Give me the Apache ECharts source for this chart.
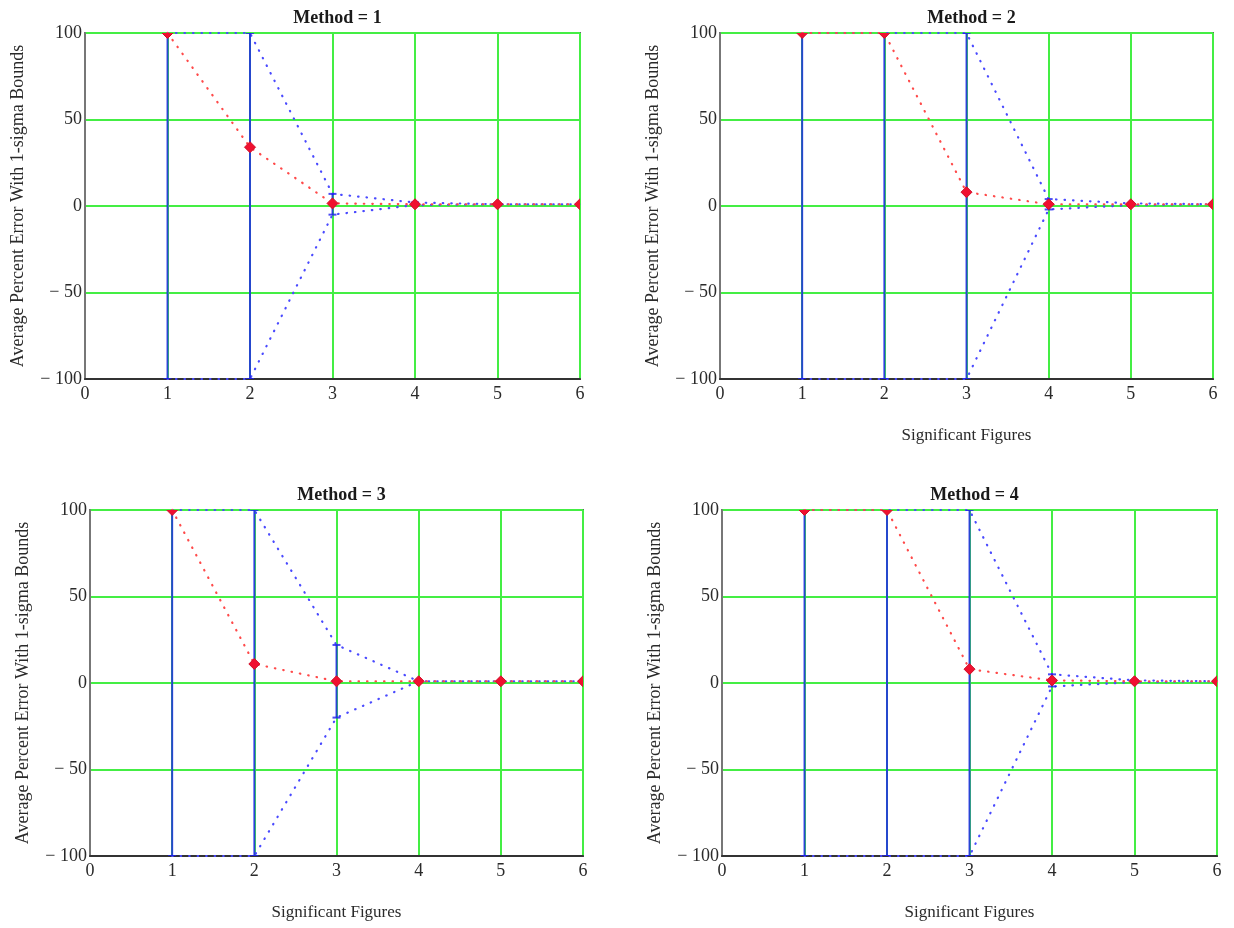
<!DOCTYPE html>
<html>
<head>
<meta charset="utf-8">
<script src="https://cdn.jsdelivr.net/npm/echarts@6/dist/echarts.min.js"></script>
<style>
  html, body { margin: 0; padding: 0; background: #ffffff; }
  #chart { width: 1234px; height: 928px; }
</style>
</head>
<body>
<div id="chart"></div>
<script>
// Significant figures on the x axis
const sigFigs = [1, 2, 3, 4, 5, 6];

// Average percent error (mean) and 1-sigma bounds for each method
const method1Mean  = [100, 34, 1.5, 1, 1, 1];
const method1Upper = [100, 100, 7, 2, 1, 1];
const method1Lower = [-100, -100, -5, 0.5, 1, 1];

const method2Mean  = [100, 100, 8, 1, 1, 1];
const method2Upper = [100, 100, 100, 4, 1.5, 1];
const method2Lower = [-100, -100, -100, -2, 0.5, 1];

const method3Mean  = [100, 11, 1, 1, 1, 1];
const method3Upper = [100, 100, 22, 1, 1, 1];
const method3Lower = [-100, -100, -20, 1, 1, 1];

const method4Mean  = [100, 100, 8, 1.5, 1, 1];
const method4Upper = [100, 100, 100, 5, 1.5, 1];
const method4Lower = [-100, -100, -100, -2, 0.5, 1];

const panelTitles = ['Method = 1', 'Method = 2', 'Method = 3', 'Method = 4'];
const yAxisTitle = 'Average Percent Error With 1-sigma Bounds';
const xAxisTitle = 'Significant Figures';

const methods = [
  { mean: method1Mean, upper: method1Upper, lower: method1Lower },
  { mean: method2Mean, upper: method2Upper, lower: method2Lower },
  { mean: method3Mean, upper: method3Upper, lower: method3Lower },
  { mean: method4Mean, upper: method4Upper, lower: method4Lower }
];

// panel layout
const panels = [
  { left: 85,  top: 33,  width: 495, height: 346, xName: '' },
  { left: 720, top: 33,  width: 493, height: 346, xName: xAxisTitle },
  { left: 90,  top: 510, width: 493, height: 346, xName: xAxisTitle },
  { left: 722, top: 510, width: 495, height: 346, xName: xAxisTitle }
];

const FONT = '"Liberation Serif", "DejaVu Serif", serif';
const GREEN = '#44ee44';
const BLUE = '#4a4aff';
const RED = '#ff4a4a';
const TEXT = '#2a2a2a';

function yLabel(v) {
  return v < 0 ? '\u2212 ' + Math.abs(v) : String(v);
}

function errorBarItem(params, api) {
  const x = api.value(0);
  const lo = api.coord([x, api.value(1)]);
  const hi = api.coord([x, api.value(2)]);
  const cap = 4;
  const style = { stroke: 'rgba(30,30,240,0.8)', lineWidth: 2 };
  return {
    type: 'group',
    children: [
      { type: 'line', shape: { x1: lo[0], y1: lo[1], x2: hi[0], y2: hi[1] }, style: style },
      { type: 'line', shape: { x1: lo[0] - cap, y1: lo[1], x2: lo[0] + cap, y2: lo[1] }, style: style },
      { type: 'line', shape: { x1: hi[0] - cap, y1: hi[1], x2: hi[0] + cap, y2: hi[1] }, style: style }
    ]
  };
}

function diamondItem(params, api) {
  const p = api.coord([api.value(0), api.value(1)]);
  const r = 5.5;
  return {
    type: 'polygon',
    shape: { points: [[p[0], p[1] - r], [p[0] + r, p[1]], [p[0], p[1] + r], [p[0] - r, p[1]]] },
    style: { fill: '#f01030', stroke: '#d0102a', lineWidth: 1 }
  };
}

const grid = [], xAxis = [], yAxis = [], series = [], title = [];

panels.forEach(function (pn, i) {
  const m = methods[i];
  grid.push({
    left: pn.left, top: pn.top, width: pn.width, height: pn.height,
    show: true, borderColor: '#666', borderWidth: 2, backgroundColor: 'transparent'
  });
  title.push({
    text: panelTitles[i],
    left: pn.left + pn.width / 2,
    top: pn.top - 29,
    textAlign: 'center',
    textStyle: { fontFamily: FONT, fontSize: 18, fontWeight: 'bold', color: '#1a1a1a' }
  });
  xAxis.push({
    type: 'value', gridIndex: i, min: 0, max: 6, interval: 1,
    name: pn.xName, nameLocation: 'middle', nameGap: 48,
    nameTextStyle: { fontFamily: FONT, fontSize: 17, color: TEXT },
    axisLine: { show: true, onZero: false, lineStyle: { color: '#333', width: 2 } },
    axisTick: { show: false },
    axisLabel: { fontFamily: FONT, fontSize: 18, color: TEXT, margin: 6 },
    splitLine: { show: true, lineStyle: { color: GREEN, width: 2 } }
  });
  yAxis.push({
    type: 'value', gridIndex: i, min: -100, max: 100, interval: 50,
    name: yAxisTitle, nameLocation: 'middle', nameGap: 58,
    nameTextStyle: { fontFamily: FONT, fontSize: 18, color: TEXT },
    axisLine: { show: true, lineStyle: { color: '#777', width: 2 } },
    axisTick: { show: false },
    axisLabel: { fontFamily: FONT, fontSize: 18, color: TEXT, margin: 3, formatter: yLabel },
    splitLine: { show: true, lineStyle: { color: GREEN, width: 2 } }
  });

  const pairs = function (arr) { return sigFigs.map(function (x, k) { return [x, arr[k]]; }); };
  const dotted = function (color) {
    return { color: color, width: 2.2, type: [0.5, 8], cap: 'round' };
  };

  series.push({
    type: 'line', xAxisIndex: i, yAxisIndex: i, data: pairs(m.upper), clip: false,
    symbol: 'none', lineStyle: dotted(BLUE), z: 3, silent: true, animation: false
  });
  series.push({
    type: 'line', xAxisIndex: i, yAxisIndex: i, data: pairs(m.lower), clip: false,
    symbol: 'none', lineStyle: dotted(BLUE), z: 3, silent: true, animation: false
  });
  series.push({
    type: 'line', xAxisIndex: i, yAxisIndex: i, data: pairs(m.mean), clip: false,
    symbol: 'none', lineStyle: dotted(RED), z: 4, silent: true, animation: false
  });
  series.push({
    type: 'custom', xAxisIndex: i, yAxisIndex: i, clip: true, z: 5,
    data: sigFigs.map(function (x, k) { return [x, m.lower[k], m.upper[k]]; }),
    encode: { x: 0, y: [1, 2] },
    renderItem: errorBarItem, silent: true, animation: false
  });
  series.push({
    type: 'custom', xAxisIndex: i, yAxisIndex: i, clip: true, z: 6,
    data: pairs(m.mean),
    encode: { x: 0, y: 1 },
    renderItem: diamondItem, silent: true, animation: false
  });
});

const chart = echarts.init(document.getElementById('chart'), null, { renderer: 'canvas' });
chart.setOption({
  backgroundColor: '#ffffff',
  animation: false,
  title: title,
  grid: grid,
  xAxis: xAxis,
  yAxis: yAxis,
  series: series
});
</script>
</body>
</html>
